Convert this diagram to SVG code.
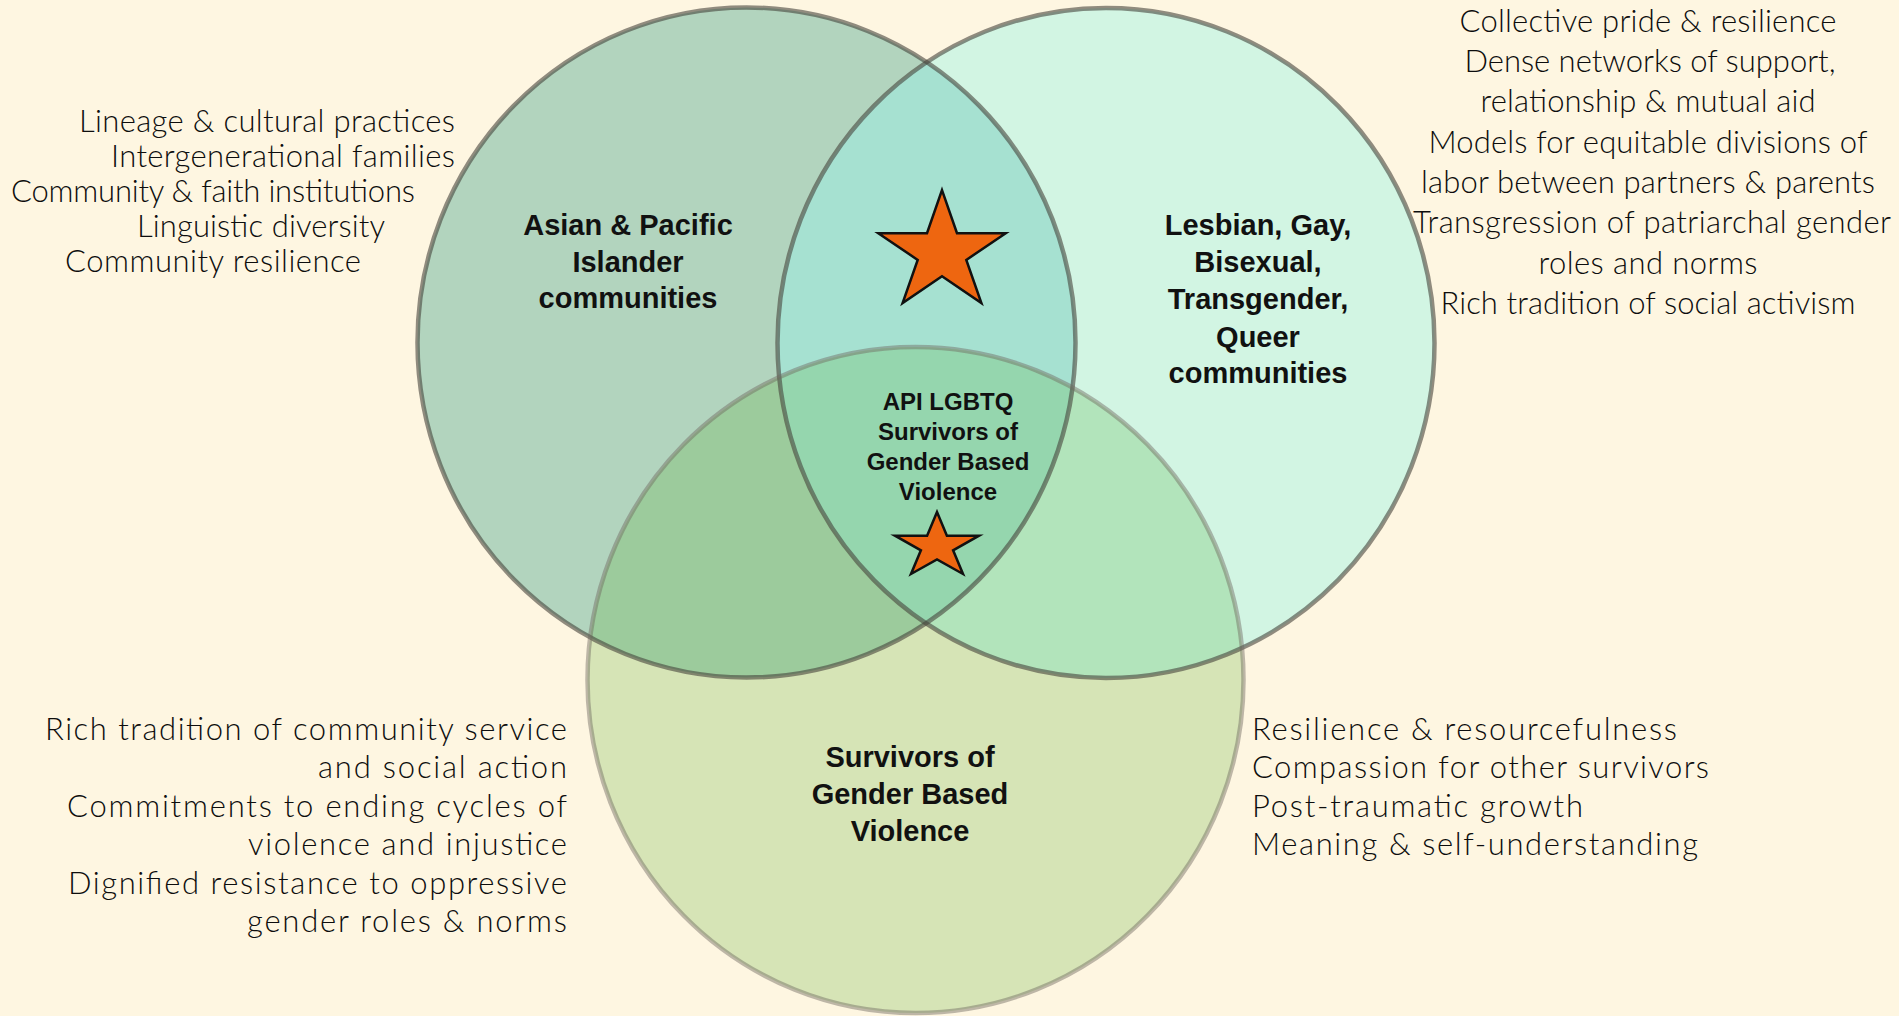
<svg xmlns="http://www.w3.org/2000/svg" width="1899" height="1016" viewBox="0 0 1899 1016">
<style>
.body{font-family:Lato,"Open Sans","Liberation Sans",sans-serif;font-weight:300;font-size:31px;fill:#0d0d0d;}
.lab{font-family:"Liberation Sans",Arial,sans-serif;font-weight:bold;font-size:29px;fill:#111;text-anchor:middle;}
.mid{font-size:24px;}
.ring{fill:none;stroke-width:4.5;}
.ringAB{stroke:rgba(70,68,60,0.6);}
.ringC{stroke:rgba(110,105,95,0.45);}
.star{fill:#ee6610;stroke:#111;stroke-width:2.5;stroke-linejoin:miter;}
</style>
<defs>
<clipPath id="clipA"><ellipse cx="746.5" cy="342.5" rx="329" ry="335"/></clipPath>
<clipPath id="clipB"><ellipse cx="1106" cy="343" rx="328.5" ry="335"/></clipPath>
</defs>
<rect width="1899" height="1016" fill="#fef6e1"/>
<g id="regions">
<ellipse cx="746.5" cy="342.5" rx="329" ry="335" fill="#b2d4be"/>
<ellipse cx="1106" cy="343" rx="328.5" ry="335" fill="#d2f5e3"/>
<ellipse cx="915.5" cy="680" rx="328" ry="333" fill="#d6e4b6"/>
<ellipse cx="1106" cy="343" rx="328.5" ry="335" fill="#a6e1d1" clip-path="url(#clipA)"/>
<ellipse cx="915.5" cy="680" rx="328" ry="333" fill="#9ccb9c" clip-path="url(#clipA)"/>
<ellipse cx="915.5" cy="680" rx="328" ry="333" fill="#b2e4bb" clip-path="url(#clipB)"/>
<g clip-path="url(#clipA)"><ellipse cx="915.5" cy="680" rx="328" ry="333" fill="#95d6ae" clip-path="url(#clipB)"/></g>
</g>
<g id="connectors"></g>
<g id="node-api">
<ellipse class="ring ringAB" cx="746.5" cy="342.5" rx="329" ry="335"/>
<text class="lab" x="628" y="235">Asian &amp; Pacific</text>
<text class="lab" x="628" y="272">Islander</text>
<text class="lab" x="628" y="308">communities</text>
</g>
<g id="node-lgbtq">
<ellipse class="ring ringAB" cx="1106" cy="343" rx="328.5" ry="335"/>
<text class="lab" x="1258" y="235">Lesbian, Gay,</text>
<text class="lab" x="1258" y="272">Bisexual,</text>
<text class="lab" x="1258" y="309">Transgender,</text>
<text class="lab" x="1258" y="347">Queer</text>
<text class="lab" x="1258" y="383">communities</text>
</g>
<g id="node-survivors">
<ellipse class="ring ringC" cx="915.5" cy="680" rx="328" ry="333"/>
<text class="lab" x="910" y="767">Survivors of</text>
<text class="lab" x="910" y="804">Gender Based</text>
<text class="lab" x="910" y="841">Violence</text>
</g>
<g id="node-center">
<polygon class="star" points="942,190.1 957,233.2 1005.7,233.2 966.3,259.9 981.4,303 942,276.3 902.6,303 917.7,259.9 878.3,233.2 927,233.2"/>
<text class="lab mid" x="948" y="410">API LGBTQ</text>
<text class="lab mid" x="948" y="440">Survivors of</text>
<text class="lab mid" x="948" y="470">Gender Based</text>
<text class="lab mid" x="948" y="500">Violence</text>
<polygon class="star" points="937,512 946.9,535.7 979,535.7 953.1,550.3 963,574 937,559.4 911,574 920.9,550.3 895,535.7 927.1,535.7"/>
</g>
<g id="list-api" class="body" text-anchor="middle">
<text x="267" y="132" textLength="376" lengthAdjust="spacing">Lineage &amp; cultural practices</text>
<text x="283" y="167" textLength="344" lengthAdjust="spacing">Intergenerational families</text>
<text x="213" y="202" textLength="404" lengthAdjust="spacing">Community &amp; faith institutions</text>
<text x="261" y="237" textLength="248" lengthAdjust="spacing">Linguistic diversity</text>
<text x="213" y="272" textLength="296" lengthAdjust="spacing">Community resilience</text>
</g>
<g id="list-lgbtq" class="body" text-anchor="middle">
<text x="1648" y="32" textLength="377" lengthAdjust="spacing">Collective pride &amp; resilience</text>
<text x="1650" y="72" textLength="371" lengthAdjust="spacing">Dense networks of support,</text>
<text x="1648" y="112" textLength="335" lengthAdjust="spacing">relationship &amp; mutual aid</text>
<text x="1648" y="153" textLength="439" lengthAdjust="spacing">Models for equitable divisions of</text>
<text x="1648" y="193" textLength="454" lengthAdjust="spacing">labor between partners &amp; parents</text>
<text x="1652" y="233" textLength="478" lengthAdjust="spacing">Transgression of patriarchal gender</text>
<text x="1648" y="274" textLength="219" lengthAdjust="spacing">roles and norms</text>
<text x="1648" y="314" textLength="415" lengthAdjust="spacing">Rich tradition of social activism</text>
</g>
<g id="list-community" class="body" text-anchor="end">
<text x="567" y="740" textLength="522" lengthAdjust="spacing">Rich tradition of community service</text>
<text x="567" y="778" textLength="249" lengthAdjust="spacing">and social action</text>
<text x="567" y="817" textLength="500" lengthAdjust="spacing">Commitments to ending cycles of</text>
<text x="567" y="855" textLength="319" lengthAdjust="spacing">violence and injustice</text>
<text x="567" y="894" textLength="499" lengthAdjust="spacing">Dignified resistance to oppressive</text>
<text x="567" y="932" textLength="320" lengthAdjust="spacing">gender roles &amp; norms</text>
</g>
<g id="list-survivors" class="body" text-anchor="start">
<text x="1252" y="740" textLength="425" lengthAdjust="spacing">Resilience &amp; resourcefulness</text>
<text x="1252" y="778" textLength="457" lengthAdjust="spacing">Compassion for other survivors</text>
<text x="1252" y="817" textLength="331" lengthAdjust="spacing">Post-traumatic growth</text>
<text x="1252" y="855" textLength="446" lengthAdjust="spacing">Meaning &amp; self-understanding</text>
</g>
</svg>
